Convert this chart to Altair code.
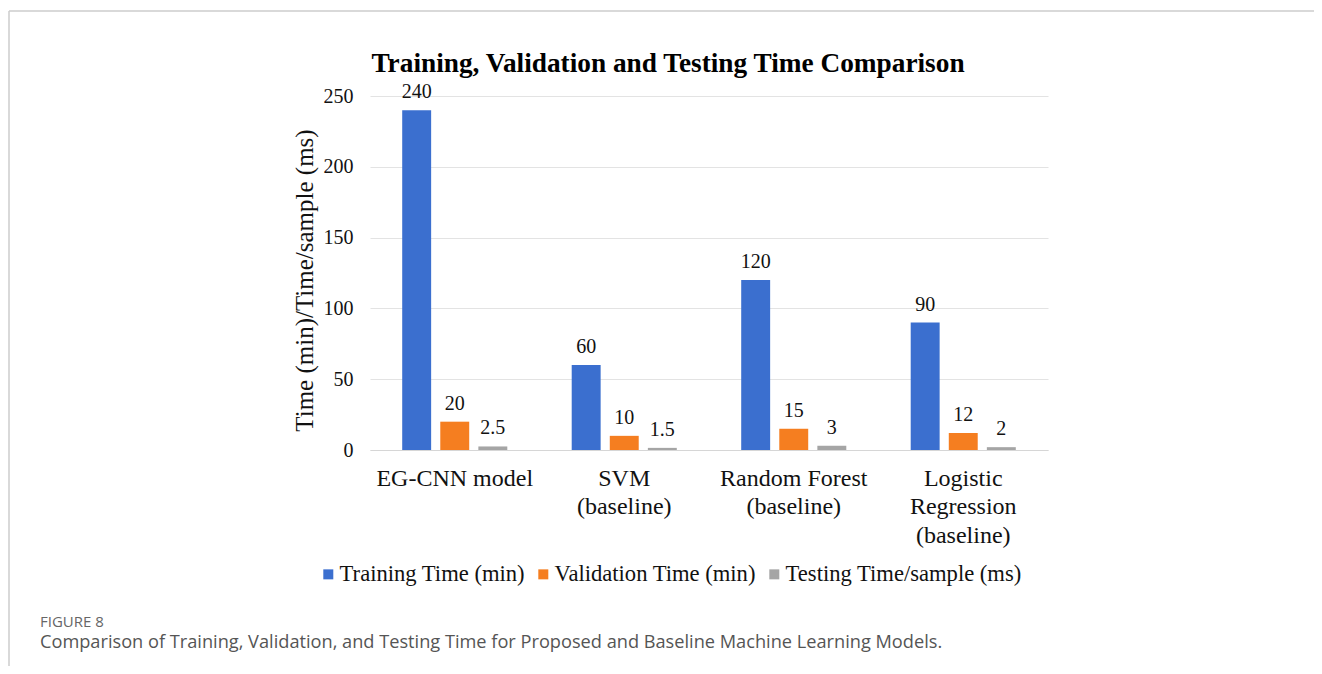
import altair as alt
import pandas as pd

categories = ["EG-CNN model", "SVM (baseline)", "Random Forest (baseline)", "Logistic Regression (baseline)"]
category_lines = [["EG-CNN model"], ["SVM", "(baseline)"], ["Random Forest", "(baseline)"], ["Logistic", "Regression", "(baseline)"]]
series = ["Training Time (min)", "Validation Time (min)", "Testing Time/sample (ms)"]
training = [240, 60, 120, 90]
validation = [20, 10, 15, 12]
testing = [2.5, 1.5, 3, 2]
colors = ["#3B6FCF", "#F57E20", "#A5A5A5"]
y_ticks = [0, 50, 100, 150, 200, 250]
title_text = "Training, Validation and Testing Time Comparison"
y_title = "Time (min)/Time/sample (ms)"
fig_label = "FIGURE 8"
caption = "Comparison of Training, Validation, and Testing Time for Proposed and Baseline Machine Learning Models."

rows = []
for s, vals in zip(series, [training, validation, testing]):
    for c, v in zip(categories, vals):
        rows.append({"model": c, "series": s, "value": v, "label": f"{v:g}"})
df = pd.DataFrame(rows)

# multi-line label expression
expr = "[datum.label]"
for c, lines in zip(categories, category_lines):
    arr = "[" + ",".join("'" + l + "'" for l in lines) + "]"
    expr = f"datum.label == '{c}' ? {arr} : ({expr})"

W, H = 678, 354
OX, OY = 362, 88  # plot origin offset within svg (page margin 8 excluded)
SERIF = "Liberation Serif"

base = alt.Chart(df).encode(
    x=alt.X("model:N", sort=categories,
            scale=alt.Scale(paddingInner=0.38, paddingOuter=0.19),
            axis=alt.Axis(title=None, labelExpr=expr, labelAngle=0, labelFont=SERIF,
                          labelFontSize=24, labelColor="#111", labelPadding=16,
                          labelLineHeight=28.5, domain=True, domainColor="#d6d6d6",
                          ticks=False)),
    xOffset=alt.XOffset("series:N", sort=series, scale=alt.Scale(paddingInner=0.24)),
    y=alt.Y("value:Q", scale=alt.Scale(domain=[0, 250]),
            axis=alt.Axis(values=y_ticks, title=y_title, titleFont=SERIF, titleFontSize=25,
                          titleFontWeight="normal", titleColor="#111", titlePadding=6,
                          titleY=184,
                          labelFont=SERIF, labelFontSize=20, labelColor="#111", labelPadding=17,
                          domain=False, ticks=False, gridColor="#e3e3e3")),
)

bars = base.mark_bar().encode(
    color=alt.Color("series:N", sort=series,
                    scale=alt.Scale(domain=series, range=colors),
                    legend=alt.Legend(title=None, orient="none", direction="horizontal",
                                      legendX=-53, legendY=467, symbolType="square",
                                      symbolSize=100, symbolStrokeWidth=0,
                                      labelFont=SERIF, labelFontSize=22.6, labelColor="#111",
                                      labelLimit=0, labelOffset=0, columnPadding=7))
)

labels = base.mark_text(font=SERIF, fontSize=20, baseline="alphabetic", dy=-12,
                        color="#111").encode(text="label:N")

one = pd.DataFrame({"k": [0]})
frame_top = alt.Chart(one).mark_rule(color="#cccccc", strokeWidth=1.5).encode(
    x=alt.value(9 - 8 - OX), x2=alt.value(1322 - OX), y=alt.value(11 - 8 - OY))
frame_left = alt.Chart(one).mark_rule(color="#cccccc", strokeWidth=1.5).encode(
    x=alt.value(9 - 8 - OX), y=alt.value(11 - 8 - OY), y2=alt.value(674 - OY))

title_mark = alt.Chart(one).mark_text(font=SERIF, fontSize=27.3, fontWeight="bold", color="#000",
                                      align="center", baseline="alphabetic").encode(
    x=alt.value(668 - 8 - OX), y=alt.value(72 - 8 - OY), text=alt.value(title_text))

fig_text = alt.Chart(one).mark_text(font="Open Sans", fontSize=15, color="#666666",
                                    align="left", baseline="alphabetic").encode(
    x=alt.value(40 - 8 - OX), y=alt.value(627 - 8 - OY), text=alt.value(fig_label))
cap_text = alt.Chart(one).mark_text(font="Open Sans", fontSize=18.2, color="#555555",
                                    align="left", baseline="alphabetic").encode(
    x=alt.value(40 - 8 - OX), y=alt.value(648 - 8 - OY), text=alt.value(caption))

chart = alt.layer(bars, labels, frame_top, frame_left, title_mark, fig_text, cap_text).properties(
    width=W, height=H,
    autosize=alt.AutoSizeParams(type="none"),
    padding={"left": OX, "top": OY, "right": 1306 - OX - W, "bottom": 658 - OY - H},
).configure_view(stroke=None)

chart.save("out.html", embed_options={"renderer": "svg", "actions": False})
